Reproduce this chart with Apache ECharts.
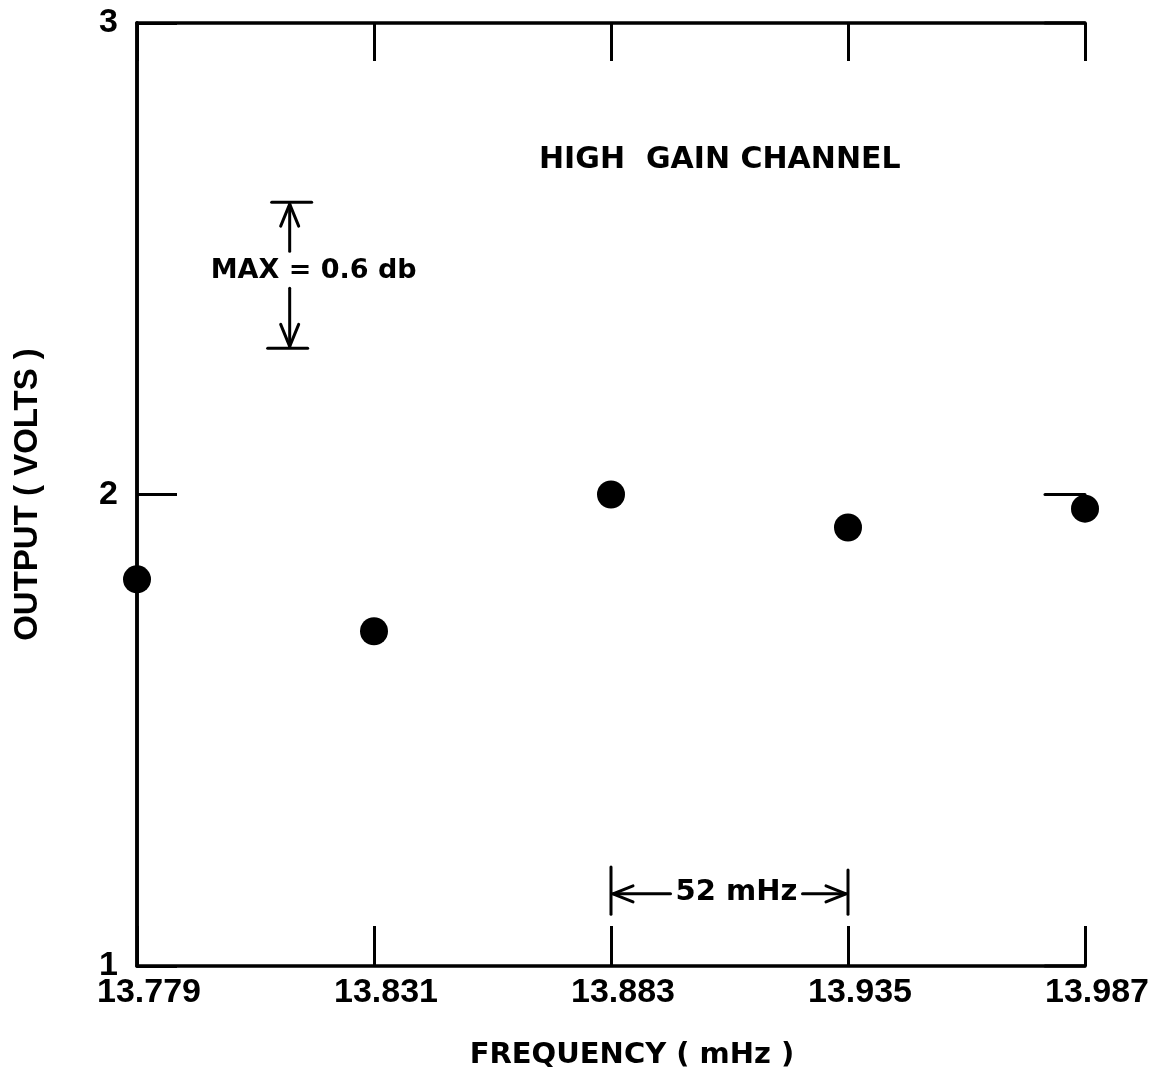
<!DOCTYPE html>
<html>
<head>
<meta charset="utf-8">
<title>High Gain Channel – Output vs Frequency</title>
<script src="https://cdn.jsdelivr.net/npm/echarts@6/dist/echarts.min.js"></script>
<style>
  html, body { margin: 0; padding: 0; background: #fff; }
  #chart { width: 1165px; height: 1079px; }
</style>
</head>
<body>
<div id="chart"></div>
<script>
// Channel frequencies (MHz) and their offset from the first one (kHz)
const freqLabels = ['13.779', '13.831', '13.883', '13.935', '13.987'];
const freqOffsetKHz = [0, 52, 104, 156, 208];
// Measured output of the high gain channel (volts)
const outputVolts = [1.82, 1.71, 2.00, 1.93, 1.97];
const voltTicks = [1, 2, 3];

// Annotations
const chartNote = 'HIGH  GAIN CHANNEL';
const maxBracketKHz = 33.5;
const maxBracketVolts = [2.31, 2.62];
const maxLabel = 'MAX = 0.6 db';
const spanBracketKHz = [104, 156];
const spanBracketVolts = [1.11, 1.21];
const spanArrowVolts = 1.153;
const spanLabel = '52 mHz';

const INK = '#000';
const LABEL_FONT = '"Liberation Sans", Arial, sans-serif';
const TITLE_FONT = '"DejaVu Sans", "Liberation Sans", sans-serif';

const chart = echarts.init(document.getElementById('chart'), null, { renderer: 'canvas' });

const tickLabel = (v) => freqLabels[Math.round(v / 52)] || '';

function arrowHead(tip, dir, len, half) {
  // dir: unit vector pointing toward the tip
  const bx = tip[0] - dir[0] * len, by = tip[1] - dir[1] * len;
  const px = -dir[1] * half, py = dir[0] * half;
  return {
    type: 'polyline',
    shape: { points: [[bx + px, by + py], tip, [bx - px, by - py]] },
    style: { stroke: INK, lineWidth: 3, fill: null, lineCap: 'round', lineJoin: 'round' }
  };
}

function line(x1, y1, x2, y2, w) {
  return {
    type: 'line',
    shape: { x1, y1, x2, y2 },
    style: { stroke: INK, lineWidth: w || 3, lineCap: 'round' }
  };
}

function renderNotes(params, api) {
  const children = [];

  // inward ticks on the right-hand frame edge
  const xMax = freqOffsetKHz[freqOffsetKHz.length - 1];
  voltTicks.forEach((v) => {
    const p = api.coord([xMax, v]);
    children.push(line(p[0] - 40, p[1], p[0], p[1]));
  });

  // vertical "MAX" bracket
  const top = api.coord([maxBracketKHz, maxBracketVolts[1]]);
  const bot = api.coord([maxBracketKHz, maxBracketVolts[0]]);
  const mx = top[0];
  const mid = (top[1] + bot[1]) / 2 - 4;
  children.push(line(mx - 18, top[1], mx + 22, top[1]));
  children.push(line(mx - 22, bot[1], mx + 18, bot[1]));
  children.push(line(mx, top[1] + 2, mx, mid - 20));
  children.push(line(mx, mid + 17, mx, bot[1] - 2));
  children.push(arrowHead([mx, top[1] + 2], [0, -1], 22, 9));
  children.push(arrowHead([mx, bot[1] - 2], [0, 1], 22, 9));
  children.push({
    type: 'text',
    style: {
      text: maxLabel, x: mx + 24, y: mid, align: 'center', verticalAlign: 'middle',
      font: 'bold 27px ' + TITLE_FONT, fill: INK
    }
  });

  // horizontal channel spacing bracket
  const a1 = api.coord([spanBracketKHz[0], spanBracketVolts[1]]);
  const a2 = api.coord([spanBracketKHz[1], spanBracketVolts[0]]);
  const ay = api.coord([spanBracketKHz[0], spanArrowVolts])[1];
  const cx = (a1[0] + a2[0]) / 2 + 7;
  children.push(line(a1[0], a1[1], a1[0], a2[1]));
  children.push(line(a2[0], a1[1] + 3, a2[0], a2[1]));
  children.push(line(a1[0] + 2, ay, cx - 66, ay));
  children.push(line(cx + 66, ay, a2[0] - 2, ay));
  children.push(arrowHead([a1[0] + 2, ay], [-1, 0], 20, 8));
  children.push(arrowHead([a2[0] - 2, ay], [1, 0], 20, 8));
  children.push({
    type: 'text',
    style: {
      text: spanLabel, x: cx, y: ay - 1, align: 'center', verticalAlign: 'middle',
      font: 'bold 29px ' + TITLE_FONT, fill: INK
    }
  });

  return { type: 'group', children };
}

const axisLineStyle = { color: INK, width: 3.5 };
const tickStyle = { color: INK, width: 3 };

chart.setOption({
  backgroundColor: '#fff',
  animation: false,
  grid: {
    left: 137, right: 80, top: 23, bottom: 113,
    containLabel: false, outerBoundsMode: 'none'
  },
  xAxis: [
    {
      type: 'value', position: 'bottom',
      min: freqOffsetKHz[0], max: freqOffsetKHz[freqOffsetKHz.length - 1], interval: 52,
      axisLine: { show: true, lineStyle: axisLineStyle },
      axisTick: { show: true, inside: true, length: 40, lineStyle: tickStyle },
      splitLine: { show: false },
      axisLabel: {
        formatter: tickLabel, margin: 10, color: INK,
        fontFamily: LABEL_FONT, fontWeight: 'bold', fontSize: 34,
        padding: [0, 0, 0, 24]
      },
      name: 'FREQUENCY ( mHz )', nameLocation: 'middle', nameGap: 75,
      nameTextStyle: {
        color: INK, fontFamily: TITLE_FONT, fontWeight: 'bold', fontSize: 29,
        padding: [0, 0, 0, 42]
      }
    },
    {
      type: 'value', position: 'top',
      min: freqOffsetKHz[0], max: freqOffsetKHz[freqOffsetKHz.length - 1], interval: 52,
      axisLine: { show: true, lineStyle: axisLineStyle },
      axisTick: { show: true, inside: true, length: 38, lineStyle: tickStyle },
      axisLabel: { show: false },
      splitLine: { show: false }
    }
  ],
  yAxis: [
    {
      type: 'value', position: 'left',
      min: voltTicks[0], max: voltTicks[voltTicks.length - 1], interval: 1,
      axisLine: { show: true, lineStyle: axisLineStyle },
      axisTick: { show: true, inside: true, length: 40, lineStyle: tickStyle },
      splitLine: { show: false },
      axisLabel: {
        margin: 19, color: INK,
        fontFamily: LABEL_FONT, fontWeight: 'bold', fontSize: 34
      },
      name: 'OUTPUT ( VOLTS )', nameLocation: 'middle', nameGap: 93, nameRotate: 90,
      nameTextStyle: {
        color: INK, fontFamily: LABEL_FONT, fontWeight: 'bold', fontSize: 33
      }
    },
    {
      type: 'value', position: 'right',
      min: voltTicks[0], max: voltTicks[voltTicks.length - 1], interval: 1,
      axisLine: { show: true, lineStyle: axisLineStyle },
      axisTick: { show: false },
      axisLabel: { show: false },
      splitLine: { show: false }
    }
  ],
  graphic: [
    {
      type: 'text', left: 539, top: 145,
      style: {
        text: chartNote, font: 'bold 30px ' + TITLE_FONT, fill: INK
      }
    }
  ],
  series: [
    {
      type: 'scatter',
      xAxisIndex: 0, yAxisIndex: 0,
      clip: false,
      symbol: 'circle', symbolSize: 28,
      itemStyle: { color: INK, opacity: 1 },
      data: freqOffsetKHz.map((x, i) => [x, outputVolts[i]]),
      z: 5
    },
    {
      type: 'custom',
      xAxisIndex: 0, yAxisIndex: 0,
      clip: false, silent: true,
      renderItem: renderNotes,
      data: [[maxBracketKHz, maxBracketVolts[0]]],
      z: 4
    }
  ]
});
</script>
</body>
</html>
